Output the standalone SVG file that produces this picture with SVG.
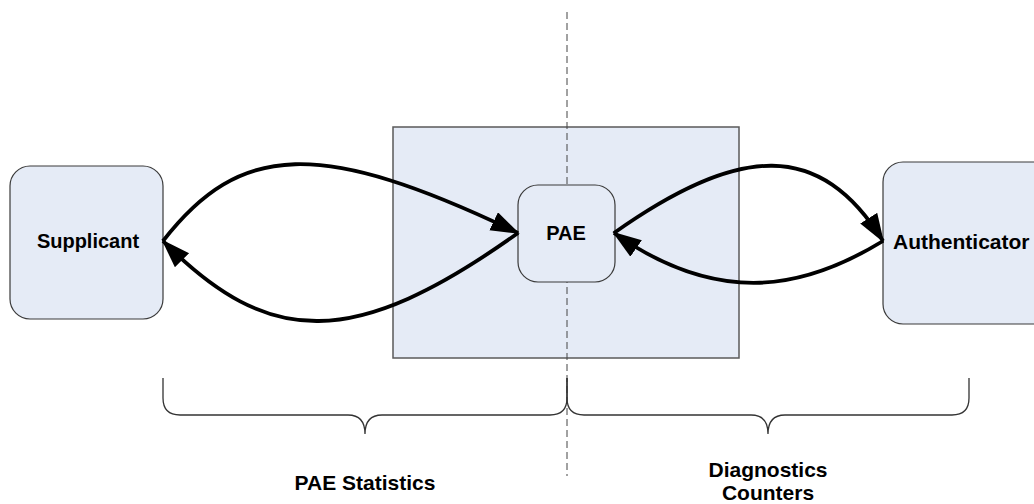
<svg xmlns="http://www.w3.org/2000/svg" width="1034" height="504" viewBox="0 0 1034 504">
<style>
.node{fill:#e5ebf6;stroke:#3a3a3a;stroke-width:1.2}
.frame{fill:#e5ebf6;stroke:#5a5a5a;stroke-width:1.5}
.lbl{font-family:"Liberation Sans",Arial,sans-serif;font-weight:bold;font-size:20px;fill:#000;text-anchor:middle}
.big{font-size:21px}
.arc{fill:none;stroke:#000;stroke-width:3.8;marker-end:url(#ah)}
.brace{fill:none;stroke:#333;stroke-width:1.3}
.dash{stroke:#444;stroke-width:1;stroke-dasharray:7 4}
</style>
<defs>
<marker id="ah" markerUnits="userSpaceOnUse" markerWidth="32" markerHeight="22" refX="27" refY="10" orient="auto">
<path d="M0,0 L29,10 L0,20 z" fill="#000"/>
</marker>
</defs>
<rect width="1034" height="504" fill="#fff"/>
<g id="pae-area">
<rect class="frame" x="393" y="127" width="346" height="231"/>
</g>
<line class="dash" x1="567" y1="12" x2="567" y2="476"/>
<g id="supplicant">
<rect class="node" x="10" y="166" width="153" height="153" rx="20"/>
<text class="lbl" x="88" y="248">Supplicant</text>
</g>
<g id="pae">
<rect class="node" x="518" y="185" width="97" height="97" rx="20"/>
<text class="lbl" x="566" y="240">PAE</text>
</g>
<g id="authenticator">
<rect class="node" x="883" y="162" width="170" height="162" rx="20"/>
<text class="lbl big" x="893" y="249" style="text-anchor:start">Authenticator</text>
</g>
<g id="connectors">
<path class="arc" d="M163,241 C240,142 320,138 518,233"/>
<path class="arc" d="M518,233 C354,350 269,348 163,241"/>
<path class="arc" d="M614,233 C740,144 820,140 883,241"/>
<path class="arc" d="M883,241 C806,288 721,308 614,233"/>
</g>
<g id="braces">
<path class="brace" d="M163,378 L163,398 Q163,415 180,415 L348,415 Q365,415 365,434 Q365,415 382,415 L550,415 Q567,415 567,398 L567,378"/>
<path class="brace" d="M567,378 L567,398 Q567,415 584,415 L751,415 Q768,415 768,434 Q768,415 785,415 L952,415 Q969,415 969,398 L969,378"/>
</g>
<g id="labels">
<text class="lbl big" x="365" y="490">PAE Statistics</text>
<text class="lbl big" x="768" y="477">Diagnostics</text>
<text class="lbl big" x="768" y="500">Counters</text>
</g>
</svg>
